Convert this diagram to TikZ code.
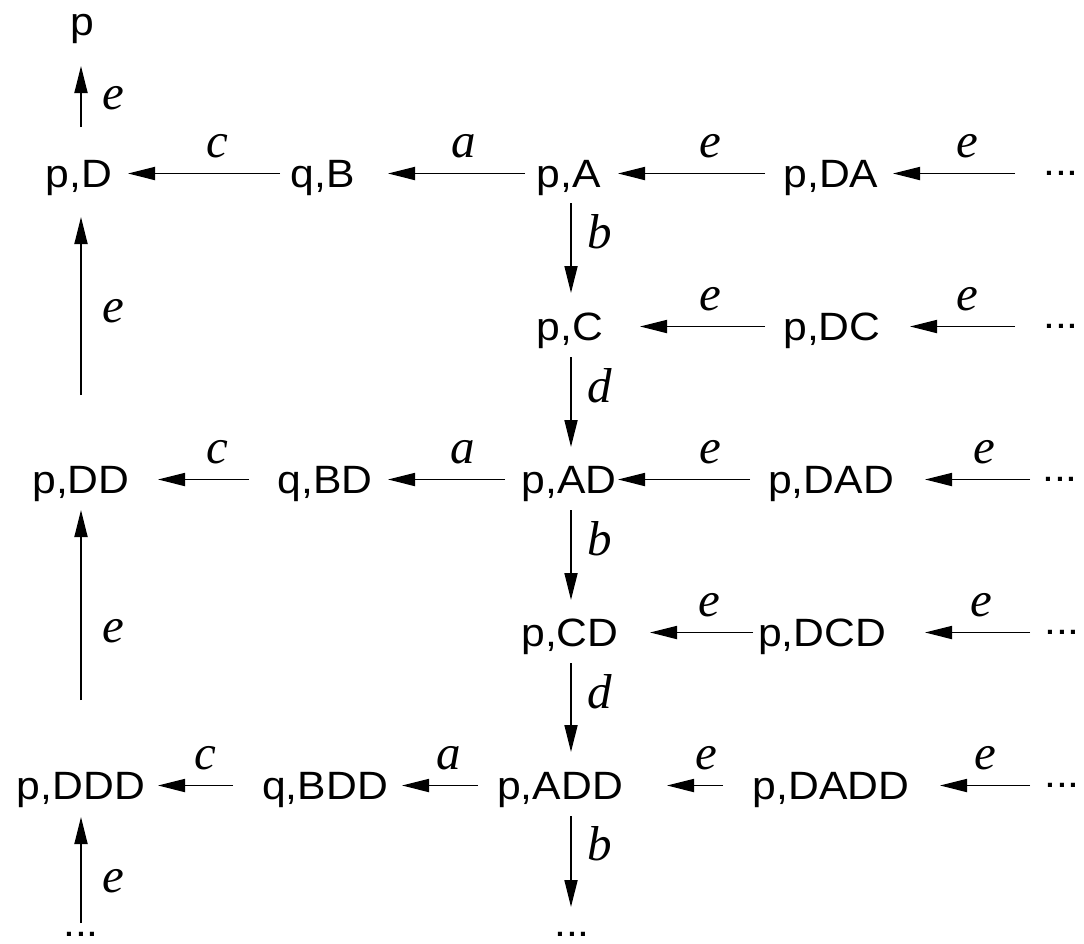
\documentclass[tikz,border=0pt]{standalone}
\usepackage{fontspec}
\setmainfont{Liberation Sans}[FakeStretch=1.08]
\newfontfamily\lblfont{Liberation Serif}
\usetikzlibrary{arrows.meta}
\begin{document}
\begin{tikzpicture}[x=1pt,y=-1pt,
  st/.style={font=\fontsize{39.5}{47}\selectfont, inner sep=0pt, text height=28pt, text depth=0pt},
  ellip/.style={font=\fontsize{39.5}{47}\selectfont, inner sep=0pt, text height=4pt, text depth=0pt},
  lbl/.style={font=\fontsize{49}{56}\selectfont\lblfont\itshape, inner sep=0pt},
  arr/.style={-{Triangle[length=27pt,width=13pt]}, line width=1.8pt},
  hl/.style={lbl, above=15pt},
  vl/.style={lbl, right=16pt},
]
\path[use as bounding box] (0,0) rectangle (1084,943);

% nodes
\node[st] (p) at (82,21) {p};
% row 1
\node[st] (pD) at (79,173.5) {p,D};
\node[st] (qB) at (323,173.5) {q,B};
\node[st] (pA) at (569,173.5) {p,A};
\node[st] (pDA) at (831,173.5) {p,DA};
\node[ellip] (d1) at (1061,173.5) {...};
% row 2
\node[st] (pC) at (570,326.5) {p,C};
\node[st] (pDC) at (832,326.5) {p,DC};
\node[ellip] (d2) at (1061,326.5) {...};
% row 3
\node[st] (pDD) at (81,479.5) {p,DD};
\node[st] (qBD) at (325,479.5) {q,BD};
\node[st] (pAD) at (569,479.5) {p,AD};
\node[st] (pDAD) at (831,479.5) {p,DAD};
\node[ellip] (d3) at (1060,479.5) {...};
% row 4
\node[st] (pCD) at (570,632.5) {p,CD};
\node[st] (pDCD) at (822,632.5) {p,DCD};
\node[ellip] (d4) at (1062,632.5) {...};
% row 5
\node[st] (pDDD) at (81,785.5) {p,DDD};
\node[st] (qBDD) at (325,785.5) {q,BDD};
\node[st] (pADD) at (560,785.5) {p,ADD};
\node[st] (pDADD) at (831,785.5) {p,DADD};
\node[ellip] (d5) at (1062,785.5) {...};
% bottom
\node[ellip] (dB1) at (81,934) {...};
\node[ellip] (dB2) at (572,934) {...};

% horizontal edges, row 1
\draw[arr] ([xshift=-43pt]qB.center) -- node[hl,pos=0.41] {c} ([xshift=49pt]pD.center);
\draw[arr] ([xshift=-44pt]pA.center) -- node[hl,pos=0.45] {a} ([xshift=65pt]qB.center);
\draw[arr] ([xshift=-66pt]pDA.center) -- node[hl,pos=0.37] {e} ([xshift=49pt]pA.center);
\draw[arr] ([xshift=-46pt]d1.center) -- node[hl,pos=0.39] {e} ([xshift=62pt]pDA.center);
% row 2
\draw[arr] ([xshift=-67pt]pDC.center) -- node[hl,pos=0.44] {e} ([xshift=70pt]pC.center);
\draw[arr] ([xshift=-46pt]d2.center) -- node[hl,pos=0.45] {e} ([xshift=78pt]pDC.center);
% row 3
\draw[arr] ([xshift=-76pt]qBD.center) -- node[hl,pos=0.35] {c} ([xshift=77pt]pDD.center);
\draw[arr] ([xshift=-64pt]pAD.center) -- node[hl,pos=0.36] {a} ([xshift=63pt]qBD.center);
\draw[arr] ([xshift=-81pt]pDAD.center) -- node[hl,pos=0.30] {e} ([xshift=49pt]pAD.center);
\draw[arr] ([xshift=-30pt]d3.center) -- node[hl,pos=0.43] {e} ([xshift=94pt]pDAD.center);
% row 4
\draw[arr] ([xshift=-69pt]pDCD.center) -- node[hl,pos=0.42] {e} ([xshift=80pt]pCD.center);
\draw[arr] ([xshift=-32pt]d4.center) -- node[hl,pos=0.46] {e} ([xshift=103pt]pDCD.center);
% row 5
\draw[arr] ([xshift=-92pt]qBDD.center) -- node[hl,pos=0.37] {c} ([xshift=77pt]pDDD.center);
\draw[arr] ([xshift=-82pt]pADD.center) -- node[hl,pos=0.39] {a} ([xshift=77pt]qBDD.center);
\draw[arr] ([xshift=-108pt]pDADD.center) -- node[hl,pos=0.29] {e} ([xshift=107pt]pADD.center);
\draw[arr] ([xshift=-32pt]d5.center) -- node[hl,pos=0.5] {e} ([xshift=109pt]pDADD.center);

% vertical edges, middle column
\draw[arr] ([xshift=2pt,yshift=-29.5pt]pA.center) -- node[vl,pos=0.32] {b} ([xshift=1pt,yshift=33.5pt]pC.center);
\draw[arr] ([xshift=1pt,yshift=-30.5pt]pC.center) -- node[vl,pos=0.32] {d} ([xshift=2pt,yshift=32.5pt]pAD.center);
\draw[arr] ([xshift=2pt,yshift=-30.5pt]pAD.center) -- node[vl,pos=0.32] {b} ([xshift=1pt,yshift=32.5pt]pCD.center);
\draw[arr] ([xshift=1pt,yshift=-30.5pt]pCD.center) -- node[vl,pos=0.32] {d} ([xshift=11pt,yshift=33.5pt]pADD.center);
\draw[arr] ([xshift=11pt,yshift=-30.5pt]pADD.center) -- node[vl,pos=0.30] {b} ([xshift=-1pt,yshift=27pt]dB2.center);

% vertical edges, left column
\draw[arr] ([xshift=2pt,yshift=46.5pt]pD.center) -- node[lbl,right=21pt,pos=0.47] {e} ([xshift=-1pt,yshift=-45pt]p.center);
\draw[arr] ([yshift=84.5pt]pDD.center) -- node[lbl,right=21pt,pos=0.47] {e} ([xshift=2pt,yshift=-43.5pt]pD.center);
\draw[arr] ([yshift=85.5pt]pDDD.center) -- node[lbl,right=21pt,pos=0.36] {e} ([yshift=-30.5pt]pDD.center);
\draw[arr] ([yshift=11pt]dB1.center) -- node[lbl,right=21pt,pos=0.39] {e} ([yshift=-31.5pt]pDDD.center);
\end{tikzpicture}
\end{document}
